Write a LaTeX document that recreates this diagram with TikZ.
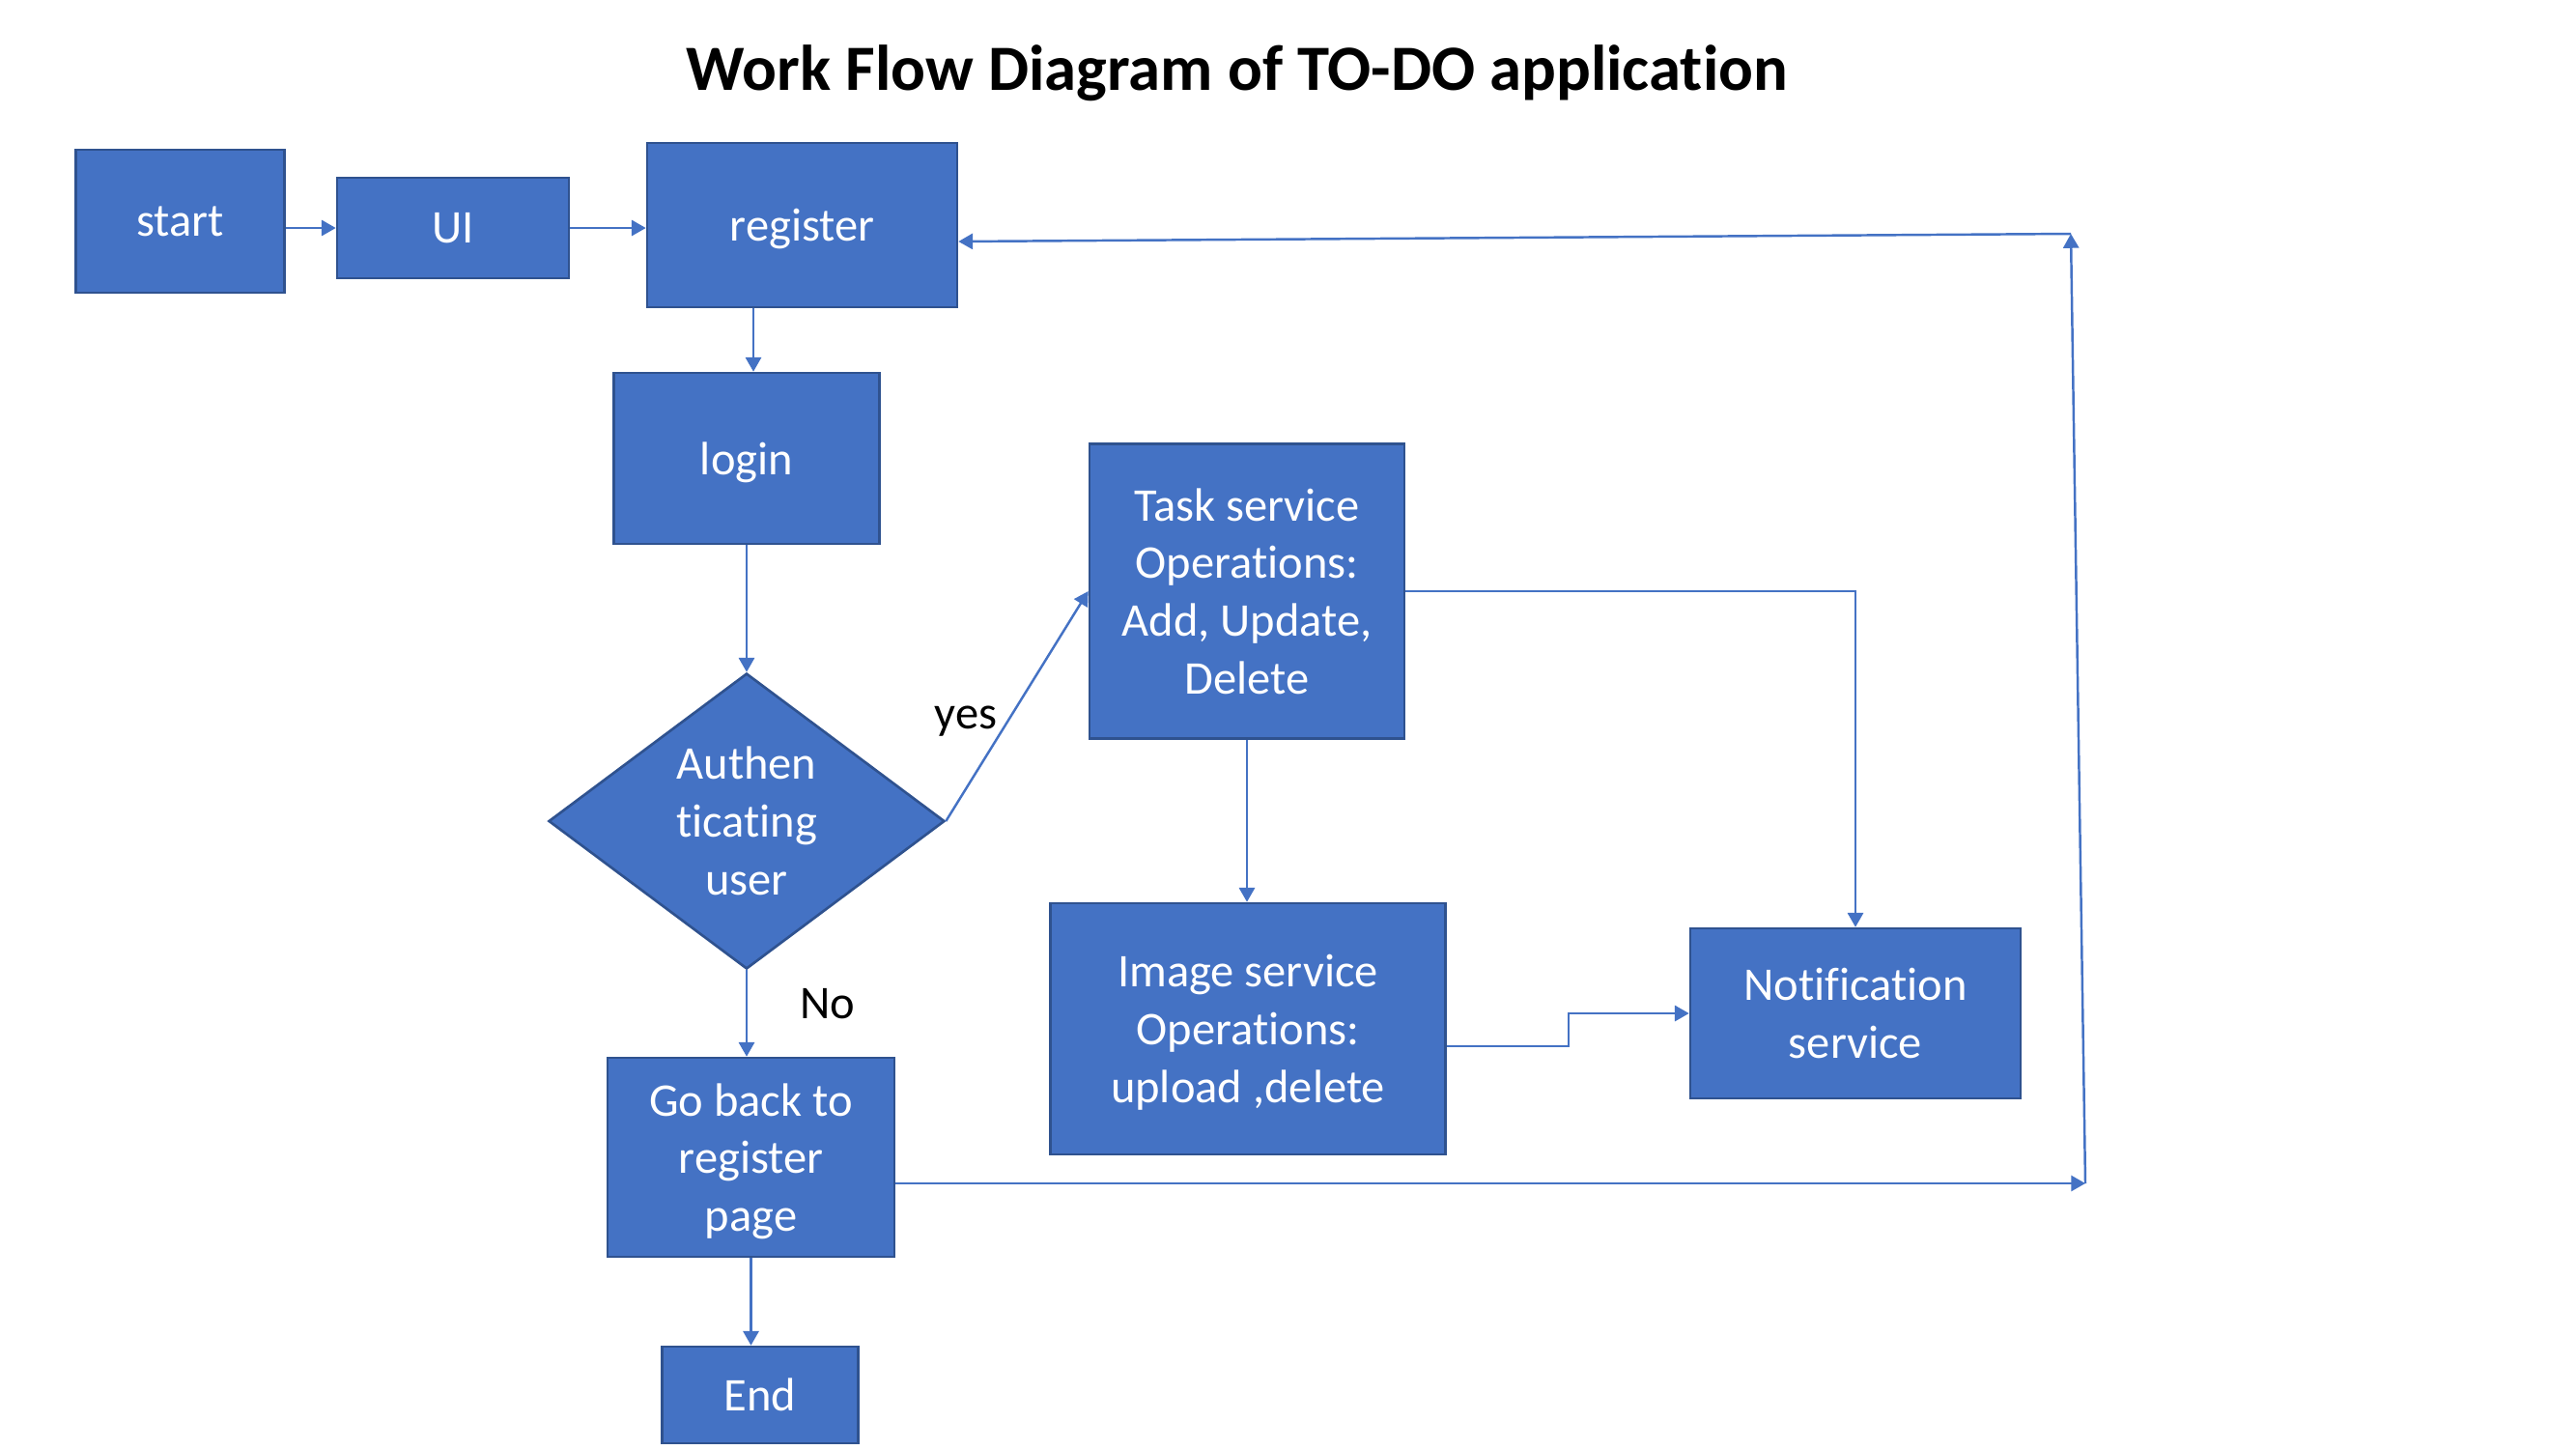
\documentclass[tikz,border=0pt]{standalone}
\usepackage{fontspec}
\setmainfont[Ligatures={NoCommon}]{Carlito}
\usetikzlibrary{shapes.geometric,arrows.meta}
\definecolor{boxblue}{HTML}{4472C4}
\definecolor{boxedge}{HTML}{2F528F}
\tikzset{
        every node/.style={font=\fontsize{13.8}{17}\selectfont},
        block/.style={rectangle, draw=boxedge, line width=0.75pt, fill=boxblue, text=white, inner sep=0pt, text depth=0pt, align=center},
        decision/.style={diamond, draw=boxedge, line width=0.75pt, fill=boxblue, text=white, inner sep=0pt, aspect=1.34, align=center},
        flow/.style={draw=boxblue, line width=0.7pt, -{Triangle[length=4.2pt,width=4.6pt]}},
        tag/.style={text=black, inner sep=0pt}
          }
\begin{document}
\begin{tikzpicture}
        \useasboundingbox (0,0) rectangle (26.67,-15);
        \node[anchor=base, font=\fontsize{19}{23}\selectfont\bfseries] (title) at (12.81,-0.93) {Work Flow Diagram of TO-DO application};
        \node[block, minimum width=2.16cm, minimum height=1.48cm] (start) at (1.866,-2.29) {start};
        \node[block, minimum width=2.40cm, minimum height=1.04cm] (ui) at (4.69,-2.36) {UI};
        \node[block, minimum width=3.21cm, minimum height=1.70cm] (register) at (8.305,-2.33) {register};
        \node[block, minimum width=2.755cm, minimum height=1.77cm] (login) at (7.73,-4.745) {login};
        \node[decision, minimum width=4.10cm, minimum height=3.06cm] (auth) at (7.73,-8.50) {Authen\\ticating\\user};
        \node[block, minimum width=3.26cm, minimum height=3.05cm] (task) at (12.91,-6.12) {Task service\\Operations:\\Add, Update,\\Delete};
        \node[block, minimum width=4.09cm, minimum height=2.60cm] (image) at (12.92,-10.65) {Image service\\Operations:\\upload ,delete};
        \node[block, minimum width=3.42cm, minimum height=1.76cm] (notif) at (19.21,-10.49) {Notification\\service};
        \node[block, minimum width=2.97cm, minimum height=2.06cm] (goback) at (7.775,-11.98) {Go back to\\register\\page};
        \node[block, minimum width=2.03cm, minimum height=1.00cm] (end) at (7.87,-14.44) {End};
        \node[tag] (yes) at (10.00,-7.47) {yes};
        \node[tag] (no) at (8.57,-10.39) {No};
        \coordinate (drop) at (7.80,0);
        \coordinate (loopbot) at (21.59,-12.25);
        \coordinate (looptop) at (21.44,-2.42);
        \draw[flow] (start.east |- ui) -- (ui.west);
        \draw[flow] (ui.east) -- (ui.east -| register.west);
        \draw[flow] (register.south -| drop) -- (login.north -| drop);
        \draw[flow] (login) -- (auth);
        \draw[flow] (auth.east) -- (task.west);
        \draw[flow] (auth.south) -- (auth.south |- goback.north);
        \draw[flow] (task) -- (task |- image.north);
        \draw[flow] (task.east) -| (notif.north);
        \draw[flow] ([yshift=-1.8mm]image.east) -- ++(1.26,0) |- (notif.west);
        \draw[flow] (goback.south) -- (goback.south |- end.north);
        \draw[flow] (goback.east |- loopbot) -- (loopbot);
        \draw[flow] (loopbot) -- (looptop);
        \draw[flow] (looptop) -- ([yshift=-1.7mm]register.east);
\end{tikzpicture}
\end{document}
